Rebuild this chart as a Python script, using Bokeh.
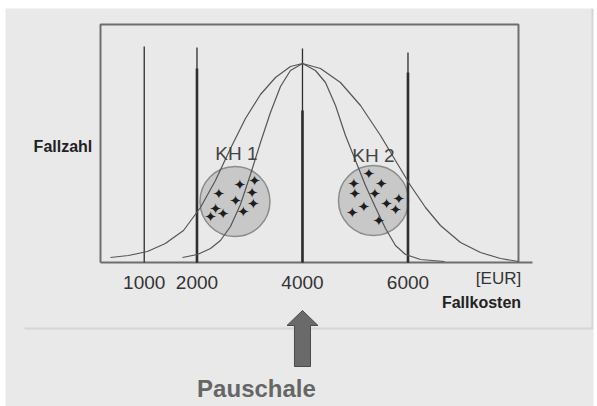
from bokeh.plotting import figure
from bokeh.models import Range1d
from bokeh.core.properties import value
from bokeh.embed import file_html
from bokeh.resources import INLINE

# ---- data (x in EUR "Fallkosten", y in arbitrary "Fallzahl" units) ----
tick_values = [1000, 2000, 4000, 6000]
tick_labels = ["1000", "2000", "4000", "6000"]
line_tops = [216, 215, 214, 210]
thick_x = [2000, 4000, 6000]
thick_tops = [194, 152, 190]

wide_x = [360, 700, 1060, 1400, 1744, 2066, 2350, 2635, 2919, 3204, 3488, 3772, 4000,
          4341, 4720, 5100, 5479, 5763, 6048, 6332, 6616, 6996, 7375, 7754, 8095]
wide_y = [5, 7, 11, 19, 32, 55, 82, 114, 144, 168, 185, 196, 199,
          194, 180, 157, 127, 102, 77, 55, 37, 20, 10, 4, 1]

narrow_x = [1725, 2010, 2256, 2445, 2635, 2824, 3014, 3204, 3393, 3583, 3772, 4000,
            4246, 4436, 4626, 4815, 5005, 5194, 5384, 5574, 5763, 5953, 6237, 6692]
narrow_y = [5, 8, 14, 22, 36, 58, 88, 120, 150, 176, 192, 199,
            192, 180, 157, 127, 102, 77, 55, 34, 17, 8, 3, 1]

cluster_x = [2720, 5346]
cluster_y = [61, 62]
cluster_names = ["KH 1", "KH 2"]
cluster_label_x = [2749, 5346]
cluster_label_y = [109, 107]

kh1_x = [2811, 3090, 3046, 2413, 2730, 3065, 2350, 2496, 2876, 2256]
kh1_y = [78, 82, 70, 69, 62, 59, 54, 49, 51, 46]
kh2_x = [5257, 4973, 5492, 4992, 5371, 5826, 5593, 5162, 5763, 4942, 5447]
kh2_y = [89, 79, 79, 69, 69, 64, 59, 56, 53, 50, 42]

pauschale = 4000

# ---- layout (data-space extents of the drawing) ----
X0, X1 = -1630, 9517        # visible canvas
Y0, Y1 = -144, 254
BOX_L, BOX_R, BOX_T, AXIS_END = 171, 8095, 238, 8360
SEP_Y, SEP_L, SEP_R = -66, -1270, 9498

BG = "#e9e9e9"
FONT = "Liberation Sans"
DARK = "#2e2e2e"

p = figure(width=597, height=406, x_range=Range1d(X0, X1), y_range=Range1d(Y0, Y1),
           output_backend="svg", toolbar_location=None,
           x_axis_type=None, y_axis_type=None,
           min_border_left=5, min_border_right=4, min_border_top=8, min_border_bottom=0)
p.background_fill_color = BG
p.border_fill_color = "white"
p.outline_line_color = None
p.grid.visible = False

# panel separator (right and bottom edges of the upper panel)
p.line([SEP_L, SEP_R, SEP_R], [SEP_Y, SEP_Y, Y1], line_color="#d6d6d6", line_width=2)

# chart box and baseline
p.line([BOX_L, BOX_L, BOX_R, BOX_R], [0, BOX_T, BOX_T, 0], line_color="#6e6e6e", line_width=2)
p.line([BOX_L, AXIS_END], [0, 0], line_color="#6e6e6e", line_width=2)

# clusters
p.scatter(cluster_x, cluster_y, marker="circle", size=70, fill_color="#c8c8c8",
          line_color="#8c8c8c", line_width=1.5)

# vertical lines
p.segment(x0=tick_values, y0=[0] * len(tick_values), x1=tick_values, y1=line_tops,
          line_color=DARK, line_width=1.3)
p.segment(x0=thick_x, y0=[0] * len(thick_x), x1=thick_x, y1=thick_tops,
          line_color=DARK, line_width=2.6)

# distributions
p.line(wide_x, wide_y, line_color="#555555", line_width=1.2)
p.line(narrow_x, narrow_y, line_color="#555555", line_width=1.2)

# hospital cases
for xs, ys in ((kh1_x, kh1_y), (kh2_x, kh2_y)):
    p.text(xs, ys, text=["\u2726"] * len(xs), text_font=value("DejaVu Sans"),
           text_font_size="15px", text_align="center", text_baseline="middle",
           text_color="#1e1e1e")

p.text(cluster_label_x, cluster_label_y, text=cluster_names, text_font=value(FONT),
       text_font_size="19px", text_align="center", text_baseline="middle",
       text_color="#444444")

# tick labels
p.text(tick_values, [-20] * len(tick_values), text=tick_labels, text_font=value(FONT),
       text_font_size="19px", text_align="center", text_baseline="middle",
       text_color="#333333")

# axis texts
p.text([-541], [116], text=["Fallzahl"], text_font=value(FONT), text_font_size="16px",
       text_font_style="bold", text_color="#222222", text_align="center",
       text_baseline="middle")
p.text([7716], [-16], text=["[EUR]"], text_font=value(FONT), text_font_size="17px",
       text_color="#333333", text_align="center", text_baseline="middle")
p.text([7394], [-40], text=["Fallkosten"], text_font=value(FONT), text_font_size="16px",
       text_font_style="bold", text_color="#222222", text_align="center",
       text_baseline="middle")

# Pauschale arrow
hw, sw = 294, 152
p.patch([pauschale, pauschale + hw, pauschale + sw, pauschale + sw,
         pauschale - sw, pauschale - sw, pauschale - hw],
        [-48, -63, -63, -104, -104, -63, -63],
        fill_color="#6a6a6a", line_color="#4a4a4a", line_width=1)
p.text([3128], [-126], text=["Pauschale"], text_font=value(FONT), text_font_size="24px",
       text_font_style="bold", text_color="#666666", text_align="center",
       text_baseline="middle")

open("out.html", "w").write(file_html(p, INLINE))
